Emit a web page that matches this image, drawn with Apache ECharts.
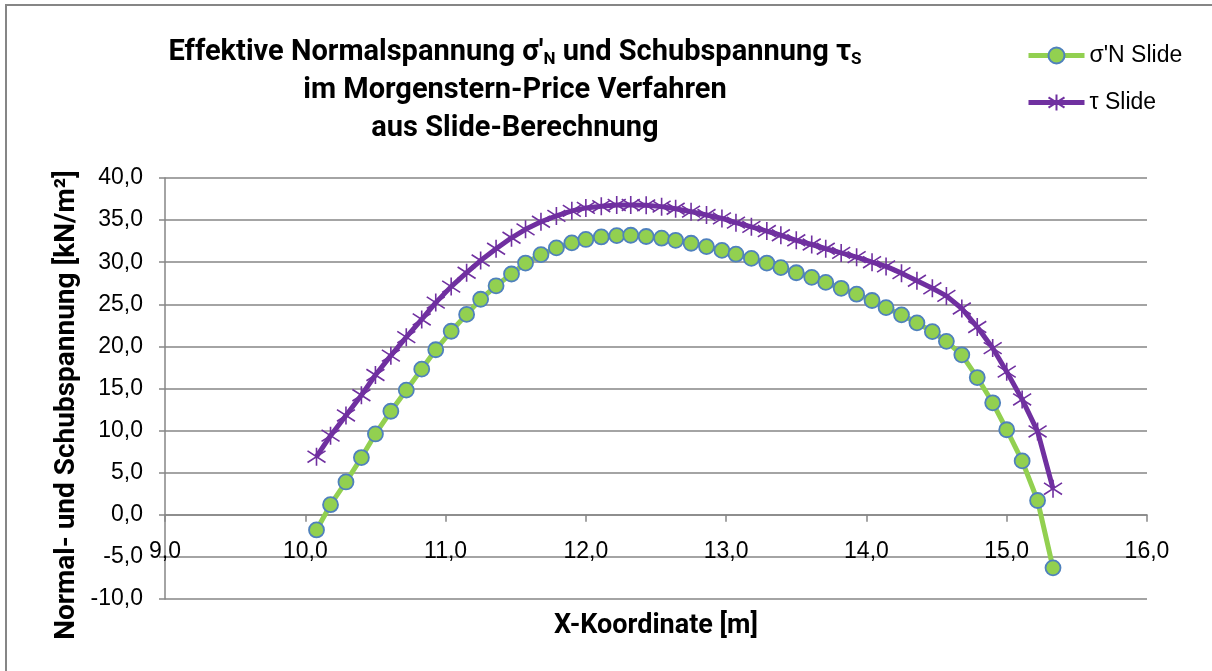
<!DOCTYPE html>
<html>
<head>
<meta charset="utf-8">
<script src="https://cdn.jsdelivr.net/npm/echarts@6/dist/echarts.min.js"></script>
<style>html,body{margin:0;padding:0;background:#fff;}#chart{width:1212px;height:671px;}</style>
</head>
<body>
<div id="chart"></div>
<script>
const xCoords = [10.08,10.18,10.29,10.40,10.50,10.61,10.72,10.83,10.93,11.04,
  11.15,11.25,11.36,11.47,11.57,11.68,11.79,11.90,12.00,12.11,
  12.22,12.32,12.43,12.54,12.64,12.75,12.86,12.97,13.07,13.18,
  13.29,13.39,13.50,13.61,13.71,13.82,13.93,14.04,14.14,14.25,
  14.36,14.47,14.57,14.68,14.79,14.90,15.00,15.11,15.22,15.33];
const sigmaN = [-1.8,1.2,3.9,6.8,9.6,12.3,14.8,17.3,19.6,21.8,
  23.8,25.6,27.2,28.6,29.9,30.9,31.7,32.3,32.7,33.0,
  33.15,33.2,33.05,32.85,32.6,32.25,31.85,31.4,30.95,30.45,
  29.9,29.35,28.75,28.2,27.6,26.9,26.2,25.45,24.6,23.75,
  22.8,21.75,20.6,19.0,16.3,13.3,10.1,6.4,1.7,-6.3];
const tau = [6.9,9.4,11.8,14.2,16.6,18.9,21.1,23.2,25.2,27.1,
  28.75,30.2,31.6,32.9,33.9,34.8,35.5,36.1,36.45,36.65,
  36.8,36.8,36.75,36.6,36.35,36.0,35.6,35.2,34.7,34.2,
  33.7,33.2,32.6,32.1,31.6,31.1,30.6,30.0,29.5,28.7,
  27.8,26.9,26.0,24.5,22.3,19.8,17.0,13.7,9.9,3.1];
const seriesNames = ["σ'N Slide", "τ Slide"];
const titleLines = ["Effektive Normalspannung σ'{sub|N} und Schubspannung τ{sub|S}", "im Morgenstern-Price Verfahren", "aus Slide-Berechnung"];
const xAxisName = "X-Koordinate [m]";
const yAxisName = "Normal- und Schubspannung [kN/m²]";

const fmt = v => v.toFixed(1).replace('.', ',');
const pair = (xs, ys) => xs.map((x, i) => [x, ys[i]]);
const starPath = 'path://M5,0L5,10M0,1.8L10,8.2M0,8.2L10,1.8';
const boldFont = 'Roboto';

const chart = echarts.init(document.getElementById('chart'), null, {renderer: 'canvas'});
chart.setOption({
  animation: false,
  backgroundColor: '#fff',
  graphic: [
    {type: 'rect', shape: {x: 6, y: 5, width: 1230, height: 700}, style: {fill: 'none', stroke: '#868686', lineWidth: 2}, silent: true},
    {type: 'text', x: 515, y: 34, style: {
      text: titleLines.join('\n'), align: 'center', verticalAlign: 'top',
      font: 'bold 29px Roboto', fill: '#000', lineHeight: 38,
      rich: {sub: {fontSize: 17, fontWeight: 'bold', fontFamily: boldFont, padding: [14, 0, 0, 0]}}
    }},
    {type: 'text', x: 67, y: 405, rotation: Math.PI / 2, style: {
      text: yAxisName, align: 'center', verticalAlign: 'middle',
      font: 'bold 28px Roboto', fill: '#000'
    }}
  ],
  legend: {
    orient: 'vertical', left: 1021, top: 39, itemWidth: 56, itemHeight: 20, itemGap: 24,
    textStyle: {fontFamily: 'Liberation Sans', fontSize: 23, color: '#000'},
    lineStyle: {width: 5},
    data: seriesNames
  },
  grid: {left: 165, right: 65, top: 178, bottom: 72, outerBoundsMode: 'none', containLabel: false},
  xAxis: {
    type: 'value', min: 9, max: 16, interval: 1,
    name: xAxisName, nameLocation: 'middle', nameGap: 14,
    nameTextStyle: {fontFamily: boldFont, fontWeight: 'bold', fontSize: 27, color: '#000'},
    axisLine: {onZero: true, lineStyle: {color: '#868686', width: 1.5}},
    axisTick: {show: true, length: 7, lineStyle: {color: '#868686', width: 1.5}},
    axisLabel: {formatter: fmt, margin: -59, fontFamily: 'Liberation Sans', fontSize: 23, color: '#000'},
    splitLine: {show: false}
  },
  yAxis: {
    type: 'value', min: -10, max: 40, interval: 5,
    axisLine: {show: true, lineStyle: {color: '#868686', width: 1.5}},
    axisTick: {show: true, inside: false, length: 6, lineStyle: {color: '#868686', width: 1.5}},
    axisLabel: {formatter: fmt, margin: 22, fontFamily: 'Liberation Sans', fontSize: 23, color: '#000'},
    splitLine: {show: true, lineStyle: {color: '#868686', width: 1.5}}
  },
  series: [
    {
      name: seriesNames[0], type: 'line', data: pair(xCoords, sigmaN), z: 2,
      lineStyle: {color: '#92D050', width: 5},
      symbol: 'circle', symbolSize: 15,
      itemStyle: {color: '#92D050', borderColor: '#4F81BD', borderWidth: 1.8},
      emphasis: {disabled: true}
    },
    {
      name: seriesNames[1], type: 'line', data: pair(xCoords, tau), z: 3,
      lineStyle: {color: '#7030A0', width: 5},
      symbol: starPath, symbolSize: 18,
      itemStyle: {color: 'none', borderColor: '#7030A0', borderWidth: 1.6},
      emphasis: {disabled: true}
    }
  ]
});
</script>
</body>
</html>
